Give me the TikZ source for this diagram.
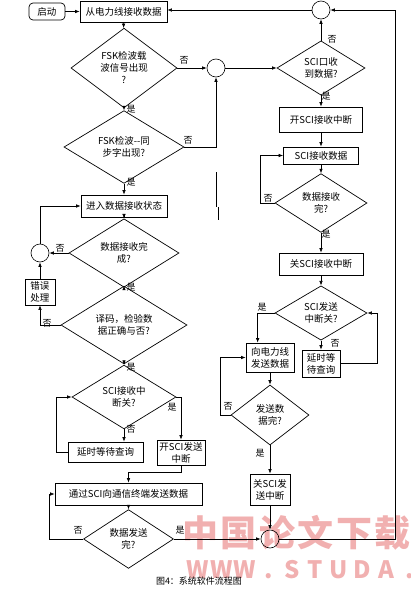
\documentclass[tikz,border=0pt]{standalone}
\usepackage{fontspec}
\setmainfont{Noto Sans CJK SC}
\usetikzlibrary{shapes.geometric,arrows.meta}

\definecolor{wmpink}{RGB}{236,150,150}
\tikzset{
  box/.style={draw, line width=0.7pt, align=center, inner sep=1pt, font=\fontsize{9.5}{12}\selectfont},
  dia/.style={draw, diamond, line width=0.7pt, align=center, inner sep=0pt, font=\fontsize{9.5}{12}\selectfont},
  joint/.style={draw, circle, line width=0.6pt, inner sep=0pt, minimum size=18pt},
  yn/.style={font=\fontsize{9}{10}\selectfont, inner sep=0pt},
  flow/.style={->, line width=0.6pt},
  wm/.style={text=wmpink, text opacity=0.75, inner sep=0pt, anchor=base, font=\bfseries\fontsize{#1}{#1}\selectfont},
}

\begin{document}
\begin{tikzpicture}[x=1pt, y=-1pt, >={Latex[length=4.5pt,width=3.5pt]}]
        \useasboundingbox (0,0) rectangle (410,600);

        % Watermark
        \foreach \ch [count=\i] in {中,国,论,文,下,载}
          \node[wm=36] (wa\i) at ({200+38.5*(\i-1)},546) {\ch};
        \foreach \ch [count=\i] in {W,W,W,.,S,T,U,D,A,.}
          \node[wm=24] (wb\i) at ({198+23.5*(\i-1)},578) {\ch};

        % Left column
        \node[box, rounded corners=4pt, minimum width=36pt, minimum height=17pt] (start) at (47,11.5) {启动};
        \node[box, minimum width=87pt, minimum height=21pt] (recv) at (123.5,11.5) {从电力线接收数据};
        \node[dia, minimum width=106pt, minimum height=68pt] (d1) at (124,68) {FSK检波载\\波信号出现\\?};
        \node[dia, minimum width=120pt, minimum height=60pt] (d2) at (124,147) {FSK检波-{}-同\\步字出现?};
        \node[box, minimum width=86pt, minimum height=22pt] (enter) at (124,206) {进入数据接收状态};
        \node[dia, minimum width=110pt, minimum height=52pt] (d4) at (124,253) {数据接收完\\成?};
        \node[joint] (c3) at (40,253) {};
        \node[box, minimum width=30pt, minimum height=26pt] (err) at (40,292) {错误\\处理};
        \node[dia, minimum width=126pt, minimum height=60pt] (d5) at (124,325) {译码，检验数\\据正确与否?};
        \node[dia, minimum width=104pt, minimum height=60pt] (d6) at (124,397) {SCI接收中\\断关?};
        \node[box, minimum width=75pt, minimum height=20pt] (wait1) at (105.5,452) {延时等待查询};
        \node[box, minimum width=48pt, minimum height=25pt] (sendon) at (181,452.5) {开SCI发送\\中断};
        \node[box, minimum width=147pt, minimum height=22pt] (sci) at (128.5,494) {通过SCI向通信终端发送数据};
        \node[dia, minimum width=90pt, minimum height=46pt] (d7) at (128.5,539) {数据发送\\完?};

        % Right column
        \node[joint] (ctop) at (321,10) {};
        \node[joint] (c2) at (216,68) {};
        \node[dia, minimum width=88pt, minimum height=48pt] (d3) at (321,68) {SCI口收\\到数据?};
        \node[box, minimum width=83pt, minimum height=25pt] (rxon) at (321,119.5) {开SCI接收中断};
        \node[box, minimum width=75pt, minimum height=17pt] (rxdata) at (321,155.5) {SCI接收数据};
        \node[dia, minimum width=92pt, minimum height=50pt] (d8) at (321,203) {数据接收\\完?};
        \node[box, minimum width=84pt, minimum height=22pt] (rxoff) at (321,264) {关SCI接收中断};
        \node[dia, minimum width=92pt, minimum height=46pt] (d9) at (321,313) {SCI发送\\中断关?};
        \node[box, minimum width=48pt, minimum height=29pt] (tx) at (270,357.5) {向电力线\\发送数据};
        \node[box, minimum width=38pt, minimum height=27pt] (wait2) at (321,363.5) {延时等\\待查询};
        \node[dia, minimum width=78pt, minimum height=60pt] (d10) at (270,415) {发送数\\据完?};
        \node[box, minimum width=40pt, minimum height=31pt] (txoff) at (270,489.5) {关SCI发\\送中断};
        \node[joint] (cend) at (270,539) {};
        \coordinate (rt) at (395,10);

        % Connectors, left
        \draw[flow] (start) -- (recv);
        \draw[flow] (recv) -- (d1);
        \draw[flow] (d1) -- (d2);
        \draw[flow] (d2) -- (enter);
        \draw[flow] (enter) -- (d4);
        \draw[flow] (d4) -- (d5);
        \draw[flow] (d5) -- (d6);
        \draw[flow] (d4.west) -- (c3.east);
        \draw[flow] (c3.north) |- (enter.west);
        \draw[flow] (err.north) -- (c3.south);
        \draw[flow] (d5.west) -| (err.south);
        \draw[flow] (d6.east) -| (sendon.north);
        \draw[flow] (d6.south) -- (d6.south |- wait1.north);
        \draw[flow] (wait1.west) -- ++(-11,0) |- (d6.west);
        \draw[flow] (sendon.south) -- ++(0,7) -| (sci.north);
        \draw[flow] (sci) -- (d7);
        \draw[flow] (d7.west) -- ++(-34,0) |- (sci.west);
        \draw[flow] (d7.east) -- (cend.west);

        % Connectors, right
        \draw[flow] (d1.east) -- (c2.west);
        \draw[flow] (d2.east) -| (c2.south);
        \draw[flow] (c2.east) -- (d3.west);
        \draw[flow] (d3.north) -- (ctop.south);
        \draw[flow] (ctop.west) -- (ctop.west -| recv.east);
        \draw[flow] (d3) -- (rxon);
        \draw[flow] (rxon) -- (rxdata);
        \draw[flow] (rxdata) -- (d8);
        \draw[flow] (d8.west) -- ++(-14,0) |- (rxdata.west);
        \draw[flow] (d8) -- (rxoff);
        \draw[flow] (rxoff) -- (d9);
        \draw[flow] (d9.west) -- ++(-17,0) coordinate (p) -- (p |- tx.north);
        \draw[flow] (d9.south) -- (wait2.north);
        \draw[flow] (wait2.east) -- ++(37,0) |- (d9.east);
        \draw[flow] (tx) -- (d10);
        \draw[flow] (d10.west) -- ++(-10,0) |- (tx.west);
        \draw[flow] (d10) -- (txoff);
        \draw[flow] (txoff) -- (cend);
        \draw[flow] (cend.east) -| (rt) -- (ctop.east);

        % Stray mark
        \draw[line width=0.8pt] (216,172) -- (216,207);
        \draw[line width=0.8pt] (218,207) -- (218,220);

        % Labels
        \node[yn] (n1) at (184,60) {否};
        \node[yn] (y1) at (131,109) {是};
        \node[yn] (n2) at (188,140) {否};
        \node[yn] (y2) at (131,182) {是};
        \node[yn] (n4) at (60,248) {否};
        \node[yn] (y4) at (131,287) {是};
        \node[yn] (n5) at (47,323) {否};
        \node[yn] (y5) at (131,367) {是};
        \node[yn] (y6) at (172,407) {是};
        \node[yn] (n6) at (131,429) {否};
        \node[yn] (n7) at (78,530) {否};
        \node[yn] (y7) at (180,530) {是};
        \node[yn] (n3) at (332,39) {否};
        \node[yn] (y3) at (326,96) {是};
        \node[yn] (n8) at (268,198) {否};
        \node[yn] (y8) at (326,234) {是};
        \node[yn] (y9) at (262,307) {是};
        \node[yn] (n9) at (335,343) {否};
        \node[yn] (n10) at (228,406) {否};
        \node[yn] (y10) at (260,453) {是};

        % Caption
        \node[font=\fontsize{9}{10}\selectfont, inner sep=0pt] (cap) at (199,581) {图4：系统软件流程图};
    \end{tikzpicture}
\end{document}
